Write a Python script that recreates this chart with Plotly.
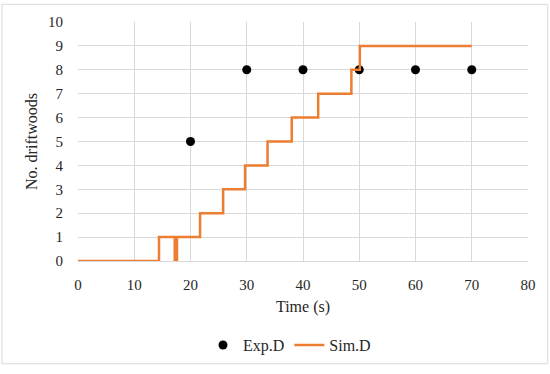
import plotly.graph_objects as go

exp_time = [20, 30, 40, 50, 60, 70]
exp_count = [5, 8, 8, 8, 8, 8]

sim_time = [0, 14.4, 17.2, 17.6, 21.7, 25.8, 29.7, 33.7, 38.0, 42.7, 48.6, 50.1, 70]
sim_count = [0, 1, 0, 1, 2, 3, 4, 5, 6, 7, 8, 9, 9]

font_family = "Liberation Serif"
txt = "#262626"

fig = go.Figure()
fig.add_trace(go.Scatter(
    x=exp_time, y=exp_count, mode="markers", name="Exp.D",
    marker=dict(color="black", size=9),
))
fig.add_trace(go.Scatter(
    x=sim_time, y=sim_count, mode="lines", name="Sim.D",
    line=dict(color="#ED7D31", width=2.5, shape="hv"),
))

fig.update_layout(
    width=550, height=374,
    margin=dict(l=78, r=22, t=22, b=108),
    paper_bgcolor="white", plot_bgcolor="white",
    font=dict(family=font_family, size=15, color=txt),
    showlegend=True,
    legend=dict(orientation="h", x=0.47, xanchor="center", y=-0.352, yanchor="middle",
                font=dict(size=16, family=font_family, color=txt)),
    xaxis=dict(range=[0, 80], dtick=10, showgrid=True, gridcolor="#d9d9d9", gridwidth=1,
               zeroline=False, showline=True, linecolor="#d9d9d9",
               title=dict(text="Time (s)", font=dict(size=16, family=font_family, color=txt), standoff=8),
               ticks="", ticklabelstandoff=10,
               tickfont=dict(size=15, family=font_family, color=txt)),
    yaxis=dict(range=[0, 10], dtick=1, showgrid=True, gridcolor="#d9d9d9", gridwidth=1,
               zeroline=False, showline=False,
               title=dict(text="No. driftwoods", font=dict(size=16, family=font_family, color=txt), standoff=6),
               ticks="", ticklabelstandoff=14,
               tickfont=dict(size=15, family=font_family, color=txt)),
    shapes=[dict(type="rect", xref="paper", yref="paper",
                 x0=-0.169, x1=1.044, y0=-0.430, y1=1.074,
                 line=dict(color="#d9d9d9", width=1), fillcolor="rgba(0,0,0,0)", layer="below")],
)

fig.write_html("out.html", config={"displayModeBar": False},
               post_script="document.body.style.margin='0';")
